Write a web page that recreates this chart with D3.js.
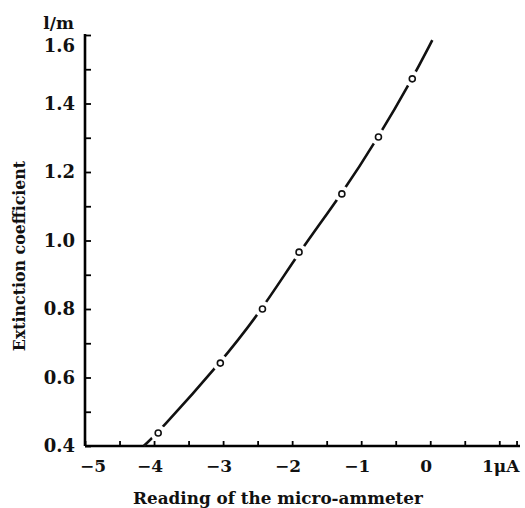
<!DOCTYPE html>
<html>
<head>
<meta charset="utf-8">
<script src="https://cdn.jsdelivr.net/npm/d3@7"></script>
<style>
  body { margin: 0; background: #fff; }
  text { font-family: "DejaVu Serif", serif; font-weight: bold; fill: #111; }
</style>
</head>
<body>
<div id="chart"></div>
<script>
// measured points (reading in µA, extinction coefficient in 1/m)
const pointX = [-3.94, -3.04, -2.43, -1.90, -1.28, -0.75, -0.26];
const pointY = [0.438, 0.642, 0.80, 0.966, 1.136, 1.302, 1.472];

// hand-drawn fitted curve
const curveX = [-4.15, -3.94, -3.04, -2.43, -1.90, -1.28, -0.75, -0.26, 0.03];
const curveY = [0.400, 0.440, 0.642, 0.800, 0.966, 1.136, 1.302, 1.472, 1.585];

const xTicks = [-5, -4.5, -4, -3.5, -3, -2.5, -2, -1.5, -1, -0.5, 0, 0.5, 1, 1.25];
const xLabels = [-5, -4, -3, -2, -1, 0, 1];
const yTicks = [0.4, 0.5, 0.6, 0.7, 0.8, 0.9, 1.0, 1.1, 1.2, 1.3, 1.4, 1.5, 1.6];
const yLabels = [0.4, 0.6, 0.8, 1.0, 1.2, 1.4, 1.6];

const width = 525, height = 508;

const svg = d3.select('#chart')
  .append('svg')
  .attr('width', width)
  .attr('height', height);

const x = d3.scaleLinear().domain([-5, 1.3]).range([85, 520]);
const y = d3.scaleLinear().domain([0.4, 1.6]).range([446, 35]);

// axes (ticks point inward)
const xAxis = svg.append('g')
  .attr('transform', `translate(0,${y(0.4)})`)
  .call(d3.axisTop(x).tickValues(xTicks).tickSize(5).tickFormat(''));
xAxis.select('.domain').attr('stroke-width', 2.6).attr('d', `M${x(-5)},0H${x(1.3)}`);
xAxis.selectAll('.tick line').attr('stroke-width', 1.8);

const yAxis = svg.append('g')
  .attr('transform', `translate(${x(-5)},0)`)
  .call(d3.axisRight(y).tickValues(yTicks).tickSize(6).tickFormat(''));
yAxis.select('.domain').attr('stroke-width', 2.6).attr('d', `M0,${y(0.4)}V${y(1.6) - 1}`);
yAxis.selectAll('.tick line').attr('stroke-width', 1.8);

// tick labels
svg.append('g').selectAll('text')
  .data(xLabels)
  .join('text')
  .attr('x', d => d === 1 ? 482 : x(d) + (d === -5 ? 8 : -4))
  .attr('y', 472)
  .attr('text-anchor', d => d === 1 ? 'start' : 'middle')
  .attr('font-size', 17)
  .text(d => d === 1 ? '1\u03bcA' : (d < 0 ? '\u2212' + Math.abs(d) : d));

svg.append('g').selectAll('text')
  .data(yLabels)
  .join('text')
  .attr('x', 75)
  .attr('y', d => y(d) + (d === 1.6 ? 17 : 6))
  .attr('text-anchor', 'end')
  .attr('font-size', 18)
  .text(d => d.toFixed(1));

svg.append('text')
  .attr('x', 74)
  .attr('y', 29)
  .attr('text-anchor', 'end')
  .attr('font-size', 17)
  .text('l/m');

// axis titles
svg.append('text')
  .attr('x', 278)
  .attr('y', 504)
  .attr('text-anchor', 'middle')
  .attr('font-size', 16.8)
  .text('Reading of the micro-ammeter');

svg.append('text')
  .attr('transform', `translate(25,256) rotate(-90)`)
  .attr('text-anchor', 'middle')
  .attr('font-size', 15.8)
  .text('Extinction coefficient');

// curve
const line = d3.line()
  .x(d => x(d[0]))
  .y(d => y(d[1]))
  .curve(d3.curveBasis);

svg.append('path')
  .datum(d3.zip(curveX, curveY))
  .attr('fill', 'none')
  .attr('stroke', '#111')
  .attr('stroke-width', 2.6)
  .attr('d', line);

// white gaps around the points, then the open circles
const pts = d3.zip(pointX, pointY);
svg.append('g').selectAll('circle')
  .data(pts)
  .join('circle')
  .attr('cx', d => x(d[0]))
  .attr('cy', d => y(d[1]))
  .attr('r', 8)
  .attr('fill', '#fff');

svg.append('g').selectAll('circle')
  .data(pts)
  .join('circle')
  .attr('cx', d => x(d[0]))
  .attr('cy', d => y(d[1]))
  .attr('r', 3)
  .attr('fill', '#fff')
  .attr('stroke', '#111')
  .attr('stroke-width', 1.6);
</script>
</body>
</html>
